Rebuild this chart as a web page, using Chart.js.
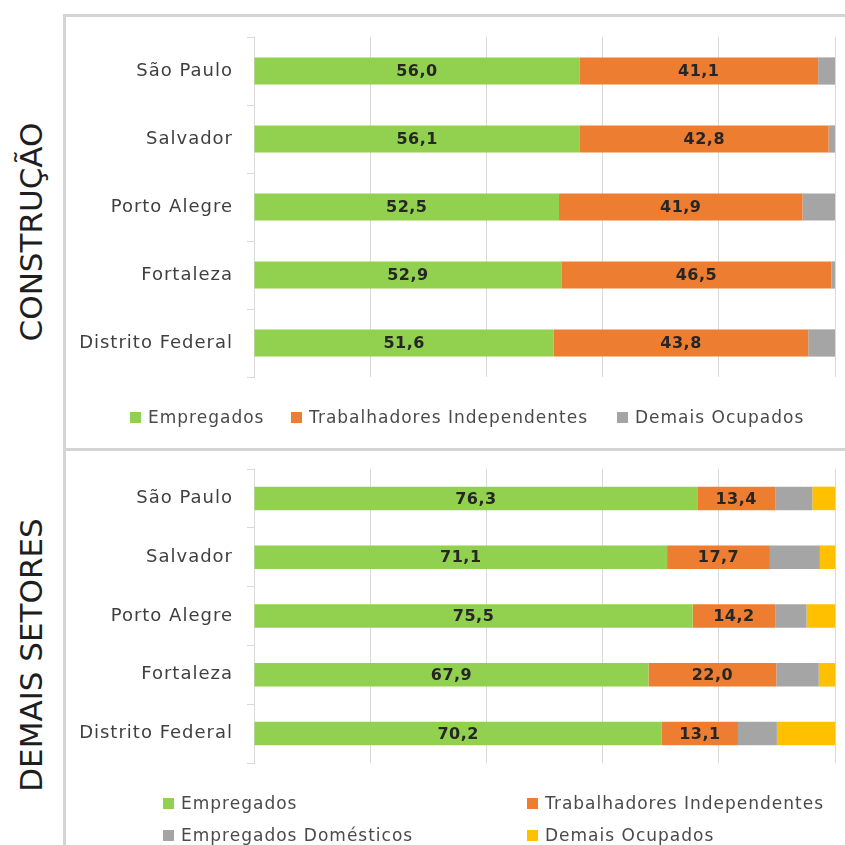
<!DOCTYPE html>
<html>
<head>
<meta charset="utf-8">
<script src="https://cdn.jsdelivr.net/npm/chart.js@4.4.0/dist/chart.umd.min.js"></script>
<style>
  body { margin: 0; background: #fff; }
  #wrap { position: relative; width: 845px; height: 845px; overflow: hidden; font-family: "DejaVu Sans", sans-serif; }
  .line { position: absolute; background: #d4d4d4; }
  .side { position: absolute; transform: translate(-50%, -50%) rotate(-90deg); white-space: nowrap; font-size: 31px; line-height: 32px; color: #1e1e1e; }
  .legenda { position: absolute; display: grid; row-gap: 12px; font-size: 17px; letter-spacing: 1px; color: #4a4a4a; line-height: 20px; }
  .legenda div { white-space: nowrap; }
  .legenda span { display: inline-block; width: 11px; height: 11px; margin-right: 7px; }
  canvas { position: absolute; }
</style>
</head>
<body>
<div id="wrap">
  <div class="line" style="left:63px;top:14px;width:782px;height:3px"></div>
  <div class="line" style="left:63px;top:14px;width:3px;height:831px"></div>
  <div class="line" style="left:63px;top:448px;width:782px;height:3px"></div>
  <div class="side" style="left:31px;top:232px">CONSTRUÇÃO</div>
  <div class="side" style="left:31px;top:655px">DEMAIS SETORES</div>
  <canvas id="chartTop" width="779" height="431" style="left:66px;top:17px"></canvas>
  <canvas id="chartBottom" width="779" height="394" style="left:66px;top:451px"></canvas>
  <div id="legendTop" class="legenda" style="left:130px;top:407px;grid-template-columns:161px 326px auto"></div>
  <div id="legendBottom" class="legenda" style="left:163px;top:793px;grid-template-columns:364px auto"></div>
</div>
<script>
var cidades = ['São Paulo', 'Salvador', 'Porto Alegre', 'Fortaleza', 'Distrito Federal'];

// construção
var constEmpregados = [56.0, 56.1, 52.5, 52.9, 51.6];
var constIndependentes = [41.1, 42.8, 41.9, 46.5, 43.8];
var constDemais = [2.9, 1.1, 5.6, 0.6, 4.6];

// demais setores
var demaisEmpregados = [76.3, 71.1, 75.5, 67.9, 70.2];
var demaisIndependentes = [13.4, 17.7, 14.2, 22.0, 13.1];
var demaisDomesticos = [6.4, 8.6, 5.4, 7.3, 6.7];
var demaisOcupados = [3.9, 2.6, 4.9, 2.8, 10.0];

var verde = '#92d050', laranja = '#ed7d31', cinza = '#a5a5a5', amarelo = '#ffc000';

// texto um pouco mais espaçado, como no original
var espacamento = {
    id: 'espacamento',
    beforeDraw: function (chart) { chart.ctx.letterSpacing = '1px'; }
};

// escreve o valor no meio das barras verdes e laranjas
var rotulos = {
    id: 'rotulos',
    afterDatasetsDraw: function (chart) {
        var ctx = chart.ctx;
        ctx.save();
        ctx.letterSpacing = '0.5px';
        ctx.font = 'bold 16px "DejaVu Sans"';
        ctx.fillStyle = '#262626';
        ctx.textAlign = 'center';
        ctx.textBaseline = 'middle';
        chart.data.datasets.forEach(function (ds, i) {
            if (!ds.mostrarValor) return;
            chart.getDatasetMeta(i).data.forEach(function (bar, j) {
                var x = (bar.x + bar.base) / 2;
                ctx.fillText(ds.data[j].toFixed(1).replace('.', ','), x, bar.y + 1);
            });
        });
        ctx.restore();
    }
};

function opcoes(eixoLargura, pad) {
    return {
        indexAxis: 'y',
        responsive: false,
        animation: false,
        layout: { padding: pad },
        plugins: { legend: { display: false }, tooltip: { enabled: false } },
        scales: {
            x: {
                stacked: true, min: 0, max: 100,
                ticks: { display: false, stepSize: 20 },
                grid: { color: '#d9d9d9', drawTicks: false },
                border: { display: false }
            },
            y: {
                stacked: true,
                afterFit: function (scale) {
                    scale.width = eixoLargura;
                    scale.paddingTop = 0;
                    scale.paddingBottom = 0;
                },
                grid: { offset: true, drawOnChartArea: false, tickLength: 7, color: '#d9d9d9' },
                border: { display: true, color: '#d9d9d9' },
                ticks: { color: '#404040', padding: 14, font: { family: 'DejaVu Sans', size: 18 } }
            }
        }
    };
}

function serie(nome, dados, cor, valor) {
    return { label: nome, data: dados, backgroundColor: cor, barPercentage: 0.4, categoryPercentage: 1, mostrarValor: valor };
}

var chartTop = new Chart(document.getElementById('chartTop').getContext('2d'), {
    type: 'bar',
    data: {
        labels: cidades,
        datasets: [
            serie('Empregados', constEmpregados, verde, true),
            serie('Trabalhadores Independentes', constIndependentes, laranja, true),
            serie('Demais Ocupados', constDemais, cinza, false)
        ]
    },
    options: opcoes(188, { left: 0, right: 10, top: 20, bottom: 71 }),
    plugins: [espacamento, rotulos]
});

var chartBottom = new Chart(document.getElementById('chartBottom').getContext('2d'), {
    type: 'bar',
    data: {
        labels: cidades,
        datasets: [
            serie('Empregados', demaisEmpregados, verde, true),
            serie('Trabalhadores Independentes', demaisIndependentes, laranja, true),
            serie('Empregados Domésticos', demaisDomesticos, cinza, false),
            serie('Demais Ocupados', demaisOcupados, amarelo, false)
        ]
    },
    options: opcoes(188, { left: 0, right: 10, top: 18, bottom: 82 }),
    plugins: [espacamento, rotulos]
});

// legendas em html, montadas a partir das séries
function legenda(chart, alvo) {
    var el = document.getElementById(alvo);
    chart.data.datasets.forEach(function (ds) {
        var item = document.createElement('div');
        item.innerHTML = '<span style="background:' + ds.backgroundColor + '"></span>' + ds.label;
        el.appendChild(item);
    });
}
legenda(chartTop, 'legendTop');
legenda(chartBottom, 'legendBottom');
</script>
</body>
</html>
